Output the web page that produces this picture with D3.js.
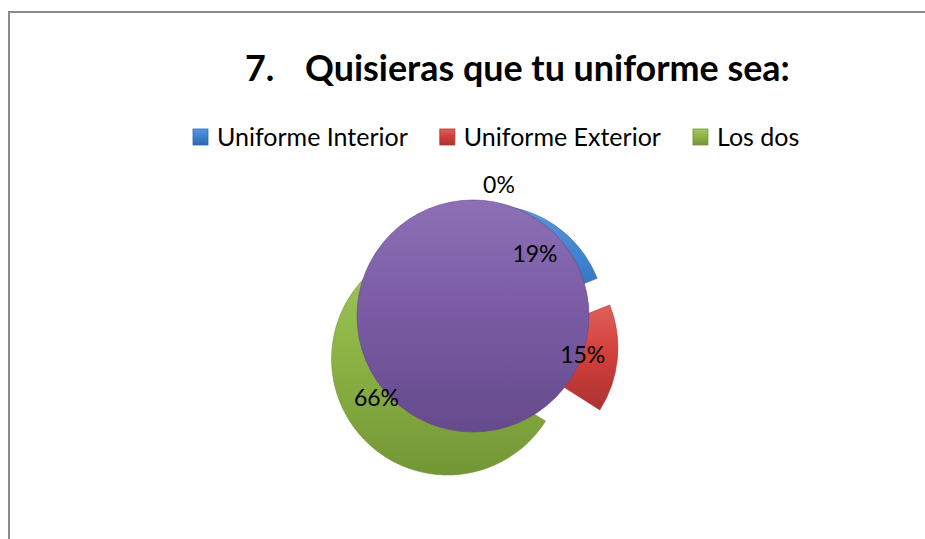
<!DOCTYPE html>
<html>
<head>
<meta charset="utf-8">
<script src="https://cdn.jsdelivr.net/npm/d3@7"></script>
<style>
  body { margin: 0; background: #fff; }
  svg { display: block; }
  text { font-family: Lato, "Open Sans", sans-serif; fill: #000; }
</style>
</head>
<body>
<div id="chart"></div>
<script>
// data
const categories = ["Uniforme Interior", "Uniforme Exterior", "Los dos", ""]
const values = [19, 15, 66, 0]
const colors = ["#3f82cf", "#d3403c", "#8db545", "#7b5ca5"]
const darker = ["#2f69ad", "#ad3230", "#739636", "#654a8c"]
const lighter = ["#5b98dc", "#e0605b", "#a2c663", "#8d70b6"]
const titleNum = "7."
const titleText = "Quisieras que tu uniforme sea:"

const width = 925, height = 539
const svg = d3.select("#chart").append("svg")
  .attr("width", width)
  .attr("height", height)

// chart border (runs off the right/bottom edge like the screenshot)
svg.append("path")
  .attr("d", "M9,545 V12 H930")
  .attr("fill", "none")
  .attr("stroke", "#8a8a8a")
  .attr("stroke-width", 2)

const defs = svg.append("defs")
colors.forEach((c, i) => {
  const g = defs.append("linearGradient")
    .attr("id", "grad" + i)
    .attr("x1", 0).attr("y1", 0).attr("x2", 0).attr("y2", 1)
  g.append("stop").attr("offset", "0%").attr("stop-color", lighter[i])
  g.append("stop").attr("offset", "45%").attr("stop-color", c)
  g.append("stop").attr("offset", "100%").attr("stop-color", darker[i])
})

// title, font size fitted to the width in the original
const title = svg.append("text")
  .attr("x", 305).attr("y", 81)
  .attr("font-size", 28).attr("font-weight", "bold")
  .text(titleText)
const titleSize = 28 * 485 / title.node().getComputedTextLength()
title.attr("font-size", titleSize)
svg.append("text")
  .attr("x", 245).attr("y", 81)
  .attr("font-size", titleSize).attr("font-weight", "bold")
  .text(titleNum)

// legend, only named categories
const legendItems = categories.map((name, i) => ({ name, i })).filter(d => d.name)
let lx = 193
legendItems.forEach(d => {
  const g = svg.append("g").attr("transform", `translate(${lx},129)`)
  g.append("rect")
    .attr("width", 15).attr("height", 16)
    .attr("fill", `url(#grad${d.i})`)
    .attr("stroke", darker[d.i]).attr("stroke-width", 0.8)
  const t = g.append("text")
    .attr("x", 24).attr("y", 17)
    .attr("font-size", 25)
    .text(d.name)
  lx += 24 + t.node().getComputedTextLength() + 32
})

// pie
const cx = 473, cy = 345, R = 116, explode = 29
const total = d3.sum(values)
const fmt = d3.format(".0%")
const arcs = d3.pie().sort(null).value(d => d)(values)
const arc = d3.arc().innerRadius(0).outerRadius(R)

const pieG = svg.append("g").attr("transform", `translate(${cx},${cy})`)

arcs.forEach((a, i) => {
  const mid = (a.startAngle + a.endAngle) / 2
  const ox = explode * Math.sin(mid), oy = -explode * Math.cos(mid)
  // a zero slice comes out as a whole disc in the original
  const shape = a.value === 0 ? { startAngle: 0, endAngle: 2 * Math.PI } : a
  pieG.append("path")
    .attr("transform", `translate(${ox},${oy})`)
    .attr("d", arc(shape))
    .attr("fill", `url(#grad${i})`)
    .attr("stroke", darker[i])
    .attr("stroke-width", 1)
    .attr("stroke-opacity", 0.6)
})

// labels on top of everything
arcs.forEach((a, i) => {
  const mid = (a.startAngle + a.endAngle) / 2
  const ox = explode * Math.sin(mid), oy = -explode * Math.cos(mid)
  const lr = a.value === 0 ? R * 1.13 : R * 0.7
  const nudge = a.value === 0 ? 26 : 0
  pieG.append("text")
    .attr("x", ox + lr * Math.sin(mid) + nudge)
    .attr("y", oy - lr * Math.cos(mid))
    .attr("text-anchor", "middle")
    .attr("dy", "0.35em")
    .attr("font-size", 23)
    .text(fmt(a.value / total))
})
</script>
</body>
</html>
